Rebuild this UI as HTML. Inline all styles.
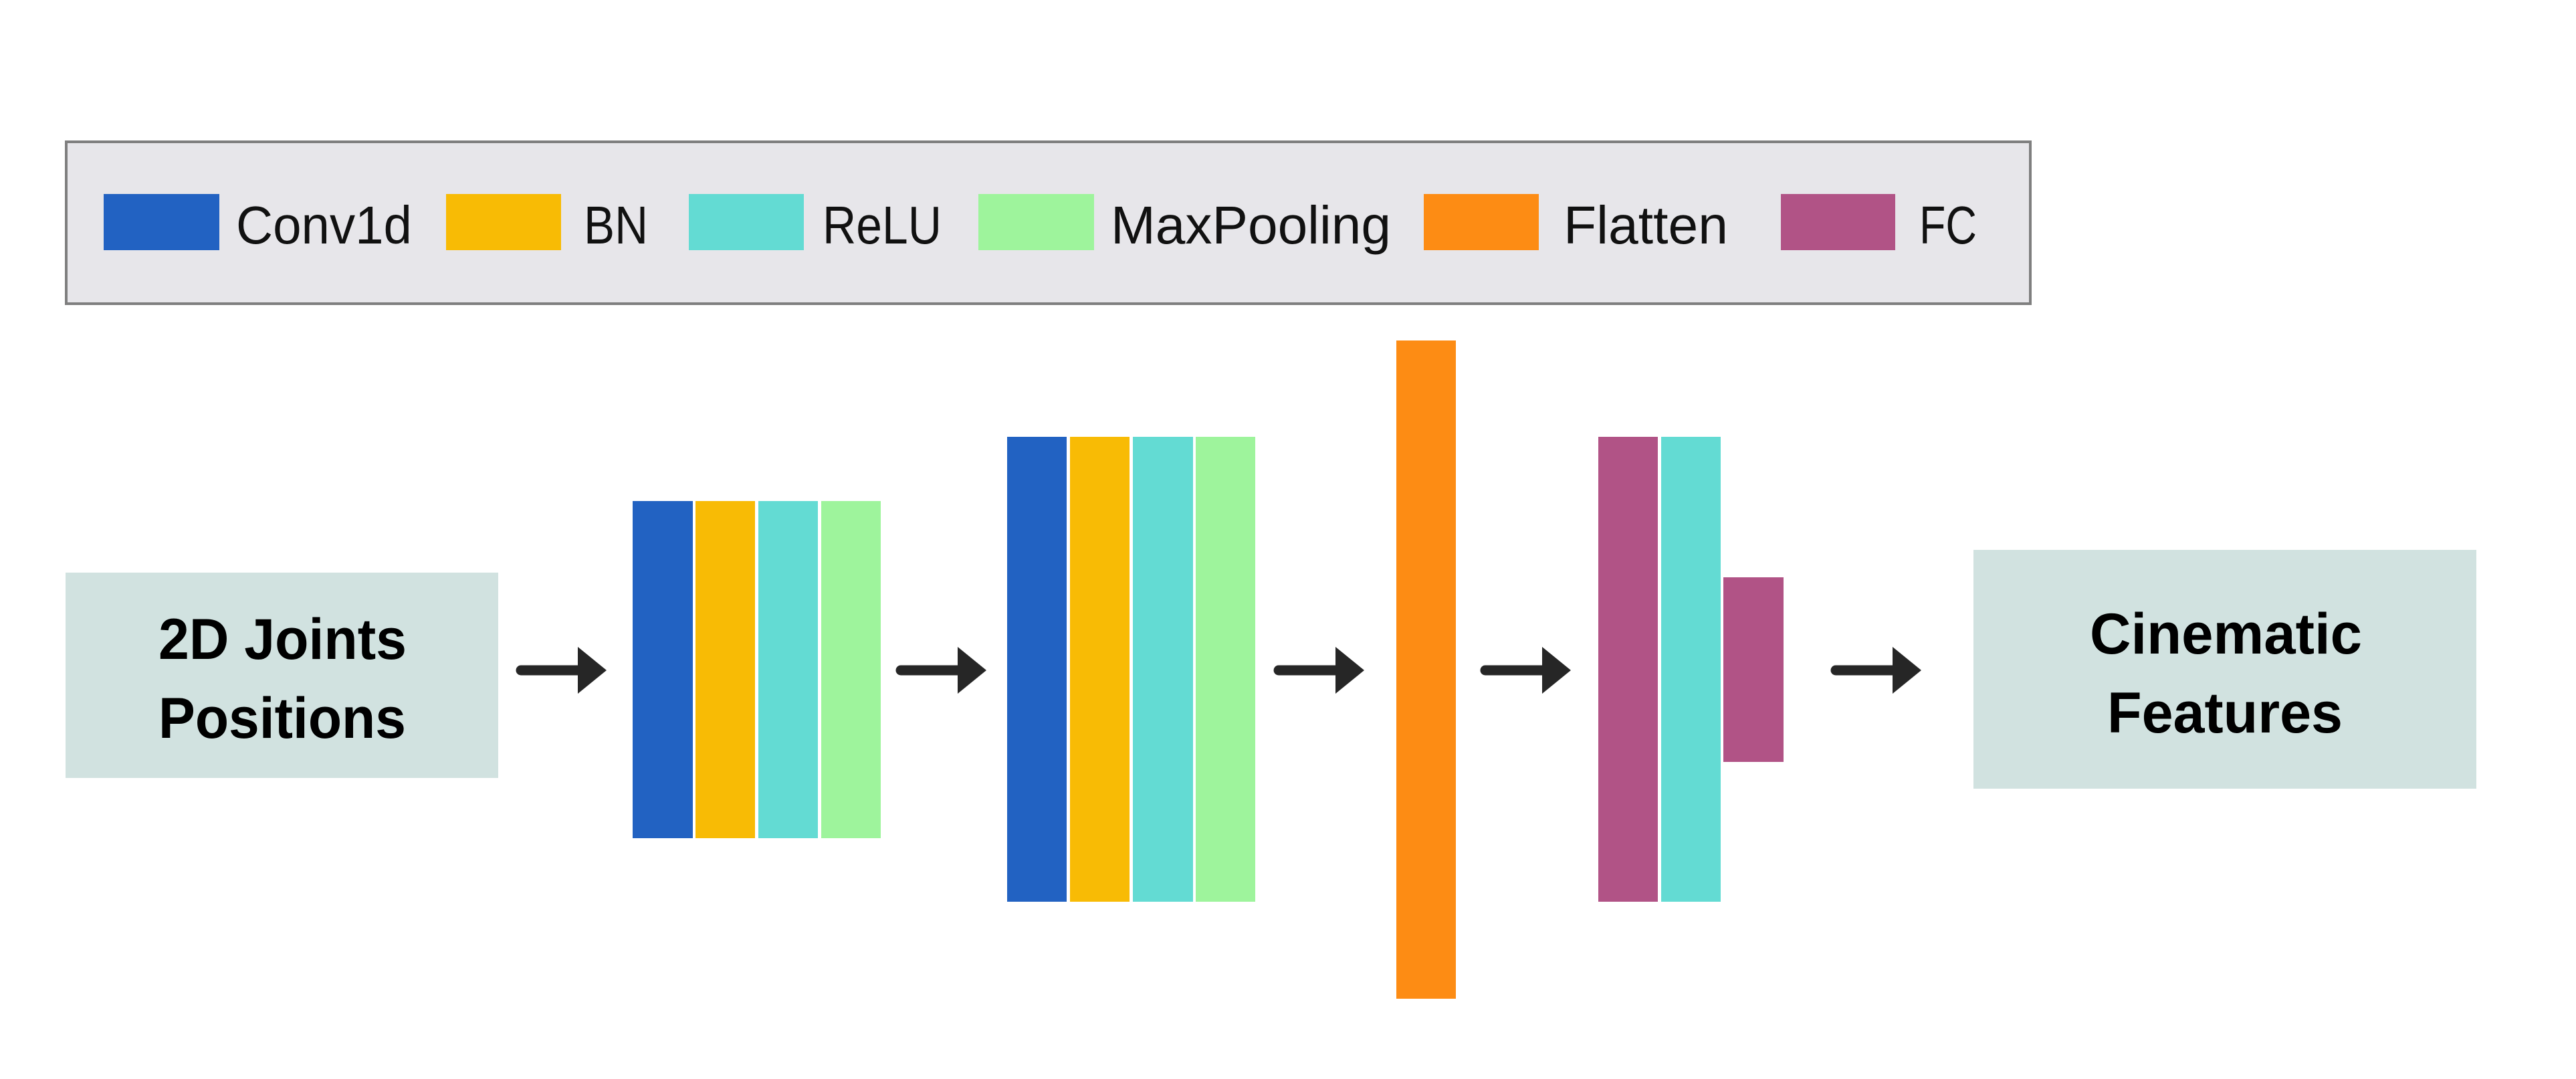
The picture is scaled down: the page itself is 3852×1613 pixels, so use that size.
<!DOCTYPE html>
<html><head><meta charset="utf-8"><style>html,body{margin:0;padding:0;background:#fff}svg{display:block}</style></head>
<body>
<svg width="3852" height="1613" viewBox="0 0 3852 1613" xmlns="http://www.w3.org/2000/svg" font-family="Liberation Sans, sans-serif">
<rect x="0" y="0" width="3852" height="1613" fill="#fff"/>
<!-- legend -->
<rect x="99" y="212" width="2937" height="242" fill="#e7e6ea" stroke="#7f7f7f" stroke-width="4"/>
<g font-size="80" fill="#111">
<rect x="155" y="290" width="173" height="84" fill="#2262c2"/>
<text x="353" y="364" textLength="263" lengthAdjust="spacingAndGlyphs">Conv1d</text>
<rect x="667" y="290" width="172" height="84" fill="#f8bb05"/>
<text x="873" y="364" textLength="96" lengthAdjust="spacingAndGlyphs">BN</text>
<rect x="1030" y="290" width="172" height="84" fill="#63dbd3"/>
<text x="1230" y="364" textLength="178" lengthAdjust="spacingAndGlyphs">ReLU</text>
<rect x="1463" y="290" width="173" height="84" fill="#9ef49c"/>
<text x="1661" y="364" textLength="419" lengthAdjust="spacingAndGlyphs">MaxPooling</text>
<rect x="2129" y="290" width="172" height="84" fill="#fd8c14"/>
<text x="2338" y="364" textLength="246" lengthAdjust="spacingAndGlyphs">Flatten</text>
<rect x="2663" y="290" width="171" height="84" fill="#b15386"/>
<text x="2870" y="364" textLength="86" lengthAdjust="spacingAndGlyphs">FC</text>
</g>
<!-- input box -->
<rect x="98" y="856" width="647" height="307" fill="#d1e2e0"/>
<g font-size="86" font-weight="bold" fill="#000">
<text x="237" y="985" textLength="371" lengthAdjust="spacingAndGlyphs">2D Joints</text>
<text x="237" y="1103" textLength="370" lengthAdjust="spacingAndGlyphs">Positions</text>
<rect x="2951" y="822" width="752" height="357" fill="#d1e2e0"/>
<text x="3125" y="977" textLength="407" lengthAdjust="spacingAndGlyphs">Cinematic</text>
<text x="3151" y="1095" textLength="352" lengthAdjust="spacingAndGlyphs">Features</text>
</g>
<!-- arrows -->
<defs>
<g id="arr"><line x1="7" y1="0" x2="95" y2="0" stroke="#262626" stroke-width="15" stroke-linecap="round"/><polygon points="92,-35 135,0 92,35" fill="#262626"/></g>
</defs>
<use href="#arr" x="772" y="1002"/>
<use href="#arr" x="1340" y="1002"/>
<use href="#arr" x="1905" y="1002"/>
<use href="#arr" x="2214" y="1002"/>
<use href="#arr" x="2738" y="1002"/>
<!-- block1 -->
<rect x="946" y="749" width="90" height="504" fill="#2262c2"/>
<rect x="1040" y="749" width="89" height="504" fill="#f8bb05"/>
<rect x="1134" y="749" width="89" height="504" fill="#63dbd3"/>
<rect x="1228" y="749" width="89" height="504" fill="#9ef49c"/>
<!-- block2 -->
<rect x="1506" y="653" width="89" height="695" fill="#2262c2"/>
<rect x="1600" y="653" width="89" height="695" fill="#f8bb05"/>
<rect x="1694" y="653" width="90" height="695" fill="#63dbd3"/>
<rect x="1788" y="653" width="89" height="695" fill="#9ef49c"/>
<!-- flatten -->
<rect x="2088" y="509" width="89" height="984" fill="#fd8c14"/>
<!-- fc -->
<rect x="2390" y="653" width="89" height="695" fill="#b15386"/>
<rect x="2484" y="653" width="89" height="695" fill="#63dbd3"/>
<rect x="2577" y="863" width="90" height="276" fill="#b15386"/>
</svg>
</body></html>
